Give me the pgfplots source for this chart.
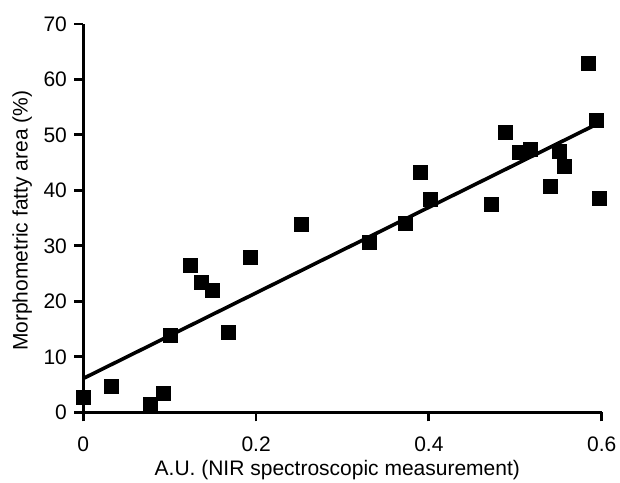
\documentclass[border=0pt]{standalone}
\usepackage{pgfplots}
\pgfplotsset{compat=1.18}
\usepackage{fontspec}
\setmainfont{Liberation Sans}

\begin{document}
\fontsize{10.5}{12.6}\selectfont
\begin{tikzpicture}
\begin{axis}[
  scale only axis, width=259.2pt, height=194.2pt,
  xmin=0, xmax=0.6, ymin=0, ymax=70,
  axis lines=left, axis line style={-, line width=1.4pt},
  tick align=outside, major tick length=4.5pt,
  tick style={line width=1.4pt, black},
  xtick={0,0.2,0.4,0.6}, xticklabels={0,0.2,0.4,0.6},
  xticklabel style={yshift=-4pt},
  ytick={0,10,...,70},
  /pgf/number format/assume math mode=true,
  clip=false,
  xlabel={A.U. (NIR spectroscopic measurement)},
  ylabel={Morphometric fatty area (\%)},
  xlabel style={at={(axis description cs:0.49,-0.1486)}, anchor=center},
  ylabel style={at={(axis description cs:-0.118,0.493)}, anchor=center, rotate=0},
]
\addplot[no marks, line width=1.8pt] coordinates {(0,6.1) (0.59,51.6)};
\addplot[only marks, mark=square*, mark size=3.5pt, black] coordinates {
(0,2.7) (0.032,4.7) (0.078,1.5) (0.093,3.4) (0.101,13.9)
(0.124,26.4) (0.137,23.5) (0.149,22.0) (0.168,14.4) (0.193,27.9)
(0.253,33.9) (0.331,30.6) (0.373,34.1) (0.390,43.3) (0.402,38.4)
(0.4725,37.5) (0.488,50.5) (0.505,46.9) (0.518,47.4) (0.541,40.7)
(0.551,47.0) (0.557,44.3) (0.585,62.9) (0.594,52.6) (0.597,38.6)
};
\end{axis}
\pgfresetboundingbox
\path (current axis.south west) ++(-41.65pt,-34.85pt) rectangle ++(310pt,241pt);
\end{tikzpicture}
\end{document}
